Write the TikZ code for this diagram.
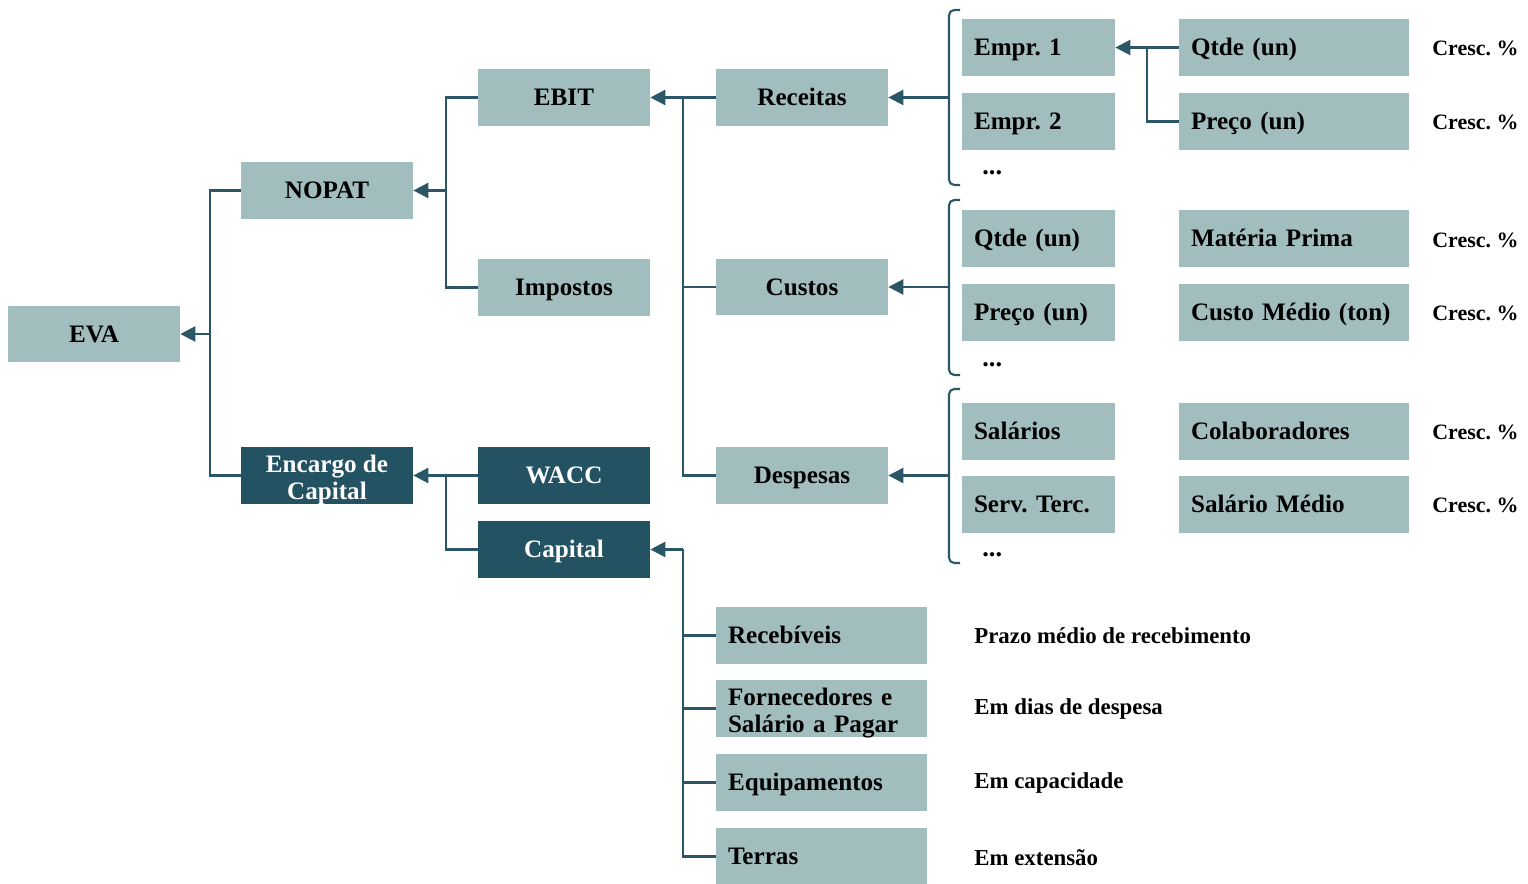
\documentclass[tikz,border=0pt]{standalone}
\usepackage{fontspec}
\setmainfont{Liberation Serif}
\usetikzlibrary{arrows.meta}
\frenchspacing

\definecolor{boxlight}{HTML}{A2BDBE}
\definecolor{boxdark}{HTML}{235262}
\definecolor{linkcol}{HTML}{2A5667}

\tikzset{
  box/.style={fill=boxlight,rectangle,minimum width=3.44cm,minimum height=1.14cm,inner sep=0pt,
    text height=9.6pt,text depth=0.4pt,font=\fontsize{14.3}{15.4}\selectfont\bfseries},
  darkbox/.style={box,fill=boxdark,text=white},
  lbox/.style={box,minimum width=0pt,inner xsep=0.24cm,text width=#1,align=left},
  twoline/.style={text height=28.2pt,text depth=0.4pt},
  twoleft/.style={text height=9.6pt,text depth=13.5pt},
  note/.style={anchor=west,inner sep=0pt,font=\fontsize{13}{14}\selectfont\bfseries},
  cresc/.style={note,font=\fontsize{12.5}{14}\selectfont\bfseries},
  dots/.style={note,font=\fontsize{15}{15}\selectfont\bfseries},
  link/.style={draw=linkcol,line width=1.4pt},
  arr/.style={link,-{Triangle[length=8.5pt,width=8.5pt]}},
  bracket/.style={link,line width=1.2pt,rounded corners=3pt}
}

\begin{document}
\begin{tikzpicture}[x=0.02cm,y=-0.02cm]
\useasboundingbox (0,0) rectangle (1528,884);

% Level 1 and 2
\node[box] (eva) at (94,334) {EVA};
\node[box] (nopat) at (327,190.5) {NOPAT};
\node[darkbox,twoline,align=center] (encargo) at (327,475.5) {Encargo de\\Capital};

% Level 3
\node[box] (ebit) at (564,97.5) {EBIT};
\node[box] (impostos) at (564,287.5) {Impostos};
\node[darkbox] (wacc) at (564,475.5) {WACC};
\node[darkbox] (capital) at (564,549.5) {Capital};

% Level 4
\node[box] (receitas) at (802,97.5) {Receitas};
\node[box] (custos) at (802,287) {Custos};
\node[box] (despesas) at (802,475.5) {Despesas};

\node[lbox=3.74cm] (receb) at (821.5,635.5) {Receb\'iveis};
\node[lbox=3.74cm,twoleft] (fornec) at (821.5,708.5) {Fornecedores e\\Sal\'ario a Pagar};
\node[lbox=3.74cm] (equip) at (821.5,782.5) {Equipamentos};
\node[lbox=3.74cm] (terras) at (821.5,856.5) {Terras};

% Level 5
\node[lbox=2.58cm] (empr1) at (1038.5,47.5) {Empr. 1};
\node[lbox=2.58cm] (empr2) at (1038.5,121.5) {Empr. 2};
\node[dots] (dotsA) at (982,173) {...};
\node[lbox=2.58cm] (qtdeA) at (1038.5,238.5) {Qtde (un)};
\node[lbox=2.58cm] (precoA) at (1038.5,312.5) {Pre\c{c}o (un)};
\node[dots] (dotsB) at (982,365) {...};
\node[lbox=2.58cm] (salarios) at (1038.5,431.5) {Sal\'arios};
\node[lbox=2.58cm] (servterc) at (1038.5,504.5) {Serv. Terc.};
\node[dots] (dotsC) at (982,555) {...};

% Level 6
\node[lbox=4.12cm] (qtdeB) at (1294,47.5) {Qtde (un)};
\node[lbox=4.12cm] (precoB) at (1294,121.5) {Pre\c{c}o (un)};
\node[lbox=4.12cm] (materia) at (1294,238.5) {Mat\'eria Prima};
\node[lbox=4.12cm] (customed) at (1294,312.5) {Custo M\'edio (ton)};
\node[lbox=4.12cm] (colab) at (1294,431.5) {Colaboradores};
\node[lbox=4.12cm] (salmed) at (1294,504.5) {Sal\'ario M\'edio};

% Growth labels
\node[cresc] (cresc1) at (1432,48) {Cresc. \%};
\node[cresc] (cresc2) at (1432,122) {Cresc. \%};
\node[cresc] (cresc3) at (1432,240) {Cresc. \%};
\node[cresc] (cresc4) at (1432,313) {Cresc. \%};
\node[cresc] (cresc5) at (1432,432) {Cresc. \%};
\node[cresc] (cresc6) at (1432,505) {Cresc. \%};

% Capital notes
\node[note] (prazo) at (974,636) {Prazo m\'edio de recebimento};
\node[note] (emdias) at (974,709) {Em dias de despesa};
\node[note] (emcap) at (974,783) {Em capacidade};
\node[note] (emext) at (974,858) {Em extens\~ao};

% Junctions
\coordinate (jEva) at (210,334);
\coordinate (jNopat) at (446,190.5);
\coordinate (jEnc) at (446,475.5);
\coordinate (jEbit) at (683,97.5);
\coordinate (jCap) at (683,549.5);
\coordinate (jEmpr) at (1147,47.5);
\coordinate (bRec) at (948,97.5);
\coordinate (bCus) at (948,287);
\coordinate (bDes) at (948,475.5);

% Connectors
\draw[link] (nopat.west) -| (jEva) |- (encargo.west);
\draw[arr] (jEva) -- (eva.east);
\draw[link] (ebit.west) -| (jNopat) |- (impostos.west);
\draw[arr] (jNopat) -- (nopat.east);
\draw[arr] (wacc.west) -- (encargo.east);
\draw[link] (jEnc) |- (capital.west);
\draw[link] (receitas.west) -| (jEbit) |- (despesas.west);
\draw[link] (jEbit) |- (custos.west);
\draw[arr] (jEbit) -- (ebit.east);
\draw[link] (jCap) |- (terras.west);
\draw[link] (jCap) |- (receb.west);
\draw[link] (jCap) |- (fornec.west);
\draw[link] (jCap) |- (equip.west);
\draw[arr] (jCap) -- (capital.east);
\draw[link] (qtdeB.west) -- (jEmpr) |- (precoB.west);
\draw[arr] (jEmpr) -- (empr1.east);

% Brackets
\draw[bracket] (960,10) -- (949,10) -- (949,185) -- (960,185);
\draw[bracket] (960,200) -- (949,200) -- (949,375) -- (960,375);
\draw[bracket] (960,389) -- (949,389) -- (949,563) -- (960,563);
\draw[arr] (bRec) -- (receitas.east);
\draw[arr] (bCus) -- (custos.east);
\draw[arr] (bDes) -- (despesas.east);
\end{tikzpicture}
\end{document}
